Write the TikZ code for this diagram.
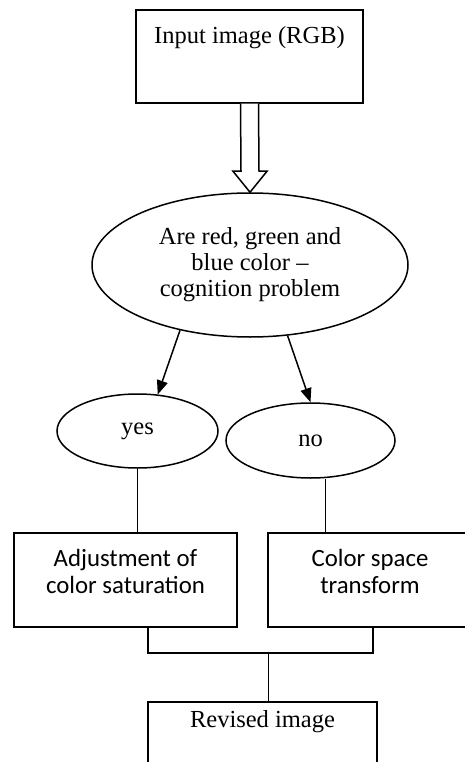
\documentclass[tikz,border=0pt]{standalone}
\usepackage{fontspec}
\setmainfont{Liberation Serif}
\newfontfamily\calibrifont{Carlito}
\usepackage{tikz}
\usetikzlibrary{shapes.geometric}
\usetikzlibrary{arrows.meta}

\begin{document}
\begin{tikzpicture}[x=1pt,y=-1pt,line width=1.5pt,
 box/.style={draw, rectangle, minimum height=94pt, inner sep=0pt},
 oval/.style={draw, ellipse, inner sep=0pt},
 big/.style={font=\fontsize{24.5}{26}\selectfont},
 bigsans/.style={font=\calibrifont\fontsize{24.8}{27}\selectfont, align=center},
 toplabel/.style={anchor=north, inner sep=0pt}]
\useasboundingbox (0,0) rectangle (465,762);
\clip (0,0) rectangle (465,762);
% Input and question
\node[box, minimum width=227pt, minimum height=93pt,
  label={[toplabel, big, yshift=-17pt]north:Input image (RGB)}] (in) at (249.5, 56.5) {};
\node[oval, big, align=center, minimum width=316pt, minimum height=144pt] (q) at (250, 265)
  {Are red, green and\\blue color --\\cognition problem};
% Answers
\node[oval, big, minimum width=161pt, minimum height=74pt] (yes) at (137.5, 431) {yes};
\node[oval, big, minimum width=169pt, minimum height=75pt] (no) at (310.5, 440.5) {no};
% Processing steps
\node[box, minimum width=223pt,
  label={[toplabel, bigsans, yshift=-16pt]north:Adjustment of\\color saturation}] (adj) at (125.5, 580) {};
\node[box, minimum width=204pt,
  label={[toplabel, bigsans, yshift=-16pt]north:Color space\\transform}] (cst) at (370, 580) {};
\node[box, minimum width=229pt,
  label={[toplabel, big, yshift=-8pt]north:Revised image}] (rev) at (262.5, 749) {};
%
% Hollow block arrow
\draw[ fill=white] ([xshift=-9pt]in.south) -- ([xshift=-9pt,yshift=21pt]q.north)
  -- ([xshift=-17pt,yshift=21pt]q.north) -- (q.north) -- ([xshift=17pt,yshift=21pt]q.north)
  -- ([xshift=9pt,yshift=21pt]q.north) -- ([xshift=9pt]in.south);
% Decision edges
\draw[ -{Triangle[length=14pt,width=11pt]}] (q.223) -- (yes.61);
\draw[ -{Triangle[length=14pt,width=11pt]}] (q.298) -- (no.north);
% Answer to step
\draw[] (yes.south) -- (yes.south |- adj.north);
\draw[] ([xshift=15pt]no.south) -- ([xshift=15pt]no.south |- cst.north);
% Merge into revised image
\coordinate (jl) at ([xshift=22.5pt,yshift=-25pt]adj.south);
\coordinate (jr) at ([xshift=3pt,yshift=-25pt]cst.south);
\draw[] ([xshift=22.5pt]adj.south) -- (jl) -- (jr) -- ([xshift=3pt]cst.south);
\draw[] ([xshift=6pt]rev.north |- jl) -- ([xshift=6pt]rev.north);
\end{tikzpicture}
\end{document}
